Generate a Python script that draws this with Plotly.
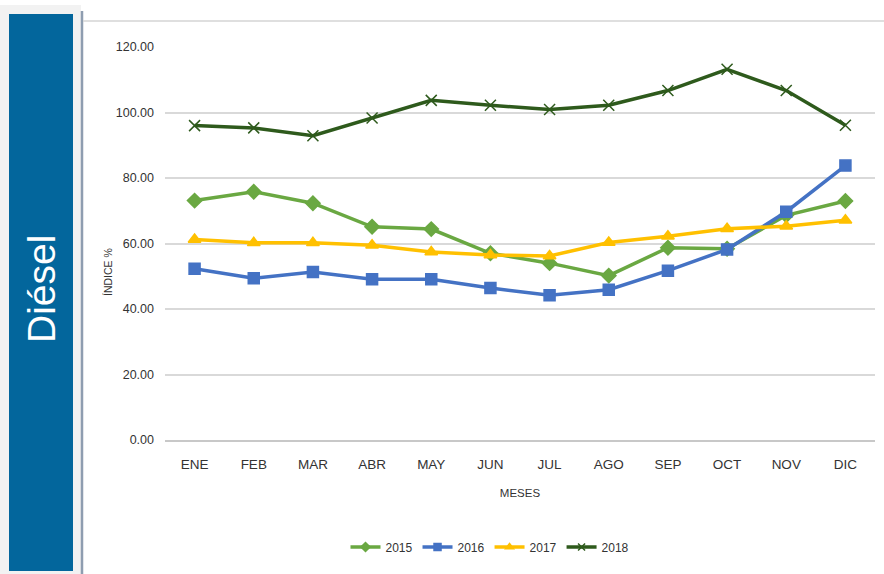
import plotly.graph_objects as go

months = ["ENE", "FEB", "MAR", "ABR", "MAY", "JUN", "JUL", "AGO", "SEP", "OCT", "NOV", "DIC"]
v2015 = [73.1, 75.8, 72.3, 65.1, 64.4, 57.0, 54.0, 50.2, 58.7, 58.4, 68.6, 73.0]
v2016 = [52.3, 49.4, 51.3, 49.1, 49.1, 46.4, 44.2, 45.9, 51.7, 58.2, 69.7, 83.8]
v2017 = [61.2, 60.2, 60.2, 59.5, 57.4, 56.5, 56.2, 60.3, 62.2, 64.5, 65.3, 67.1]
v2018 = [96.0, 95.3, 92.9, 98.3, 103.7, 102.2, 100.9, 102.2, 106.7, 113.2, 106.7, 96.1]
y_ticks = [0, 20, 40, 60, 80, 100, 120]

FONT = "Liberation Sans, Arial, sans-serif"
TXT = "#333333"

series = [
    ("2015", v2015, "#6aa842", "diamond", 11),
    ("2016", v2016, "#4472c4", "square", 11),
    ("2017", v2017, "#ffc000", "triangle-up", 11),
    ("2018", v2018, "#2e5a1c", "x-thin-open", 11),
]

fig = go.Figure()
for name, vals, col, sym, sz in series:
    fig.add_trace(go.Scatter(
        x=months, y=vals, name=name, mode="lines+markers", showlegend=False,
        line=dict(color=col, width=3.5),
        marker=dict(symbol=sym, size=sz, color=col, line=dict(color=col, width=1.5)),
    ))
# legend entries with small markers, as in the original
for name, vals, col, sym, sz in series:
    fig.add_trace(go.Scatter(
        x=[months[0]], y=[None], name=name, mode="lines+markers", showlegend=True,
        line=dict(color=col, width=3.5), hoverinfo="skip",
        marker=dict(symbol=sym, size=7, color=col, line=dict(color=col, width=1.5)),
    ))

# plot area: x 165..875, y 47..440 px
L, R, T, B = 165, 9, 47, 134
W, H = 884, 574
pw, ph = W - L - R, H - T - B

def px(x):
    return (x - L) / pw

def py(y):
    return (H - B - y) / ph

shapes = [
    dict(type="rect", xref="paper", yref="paper", x0=px(0), x1=px(81), y0=py(574), y1=py(5),
         fillcolor="#f2f2f2", line=dict(width=0), layer="below"),
    dict(type="rect", xref="paper", yref="paper", x0=px(9), x1=px(73), y0=py(571), y1=py(14),
         fillcolor="#03669c", line=dict(width=0), layer="below"),
    dict(type="line", xref="paper", yref="paper", x0=px(82), x1=px(82), y0=py(574), y1=py(11),
         line=dict(color="#8e9db0", width=2.5)),
    dict(type="line", xref="paper", yref="paper", x0=px(83), x1=px(884), y0=py(21), y1=py(21),
         line=dict(color="#d4d4d4", width=1.5)),
]

annotations = [
    dict(text="Diésel", xref="paper", yref="paper", x=px(41), y=py(289), showarrow=False,
         textangle=-90, font=dict(family=FONT, size=39, color="white"),
         xanchor="center", yanchor="middle"),
    dict(text="ÍNDICE %", xref="paper", yref="paper", x=px(108), y=py(272), showarrow=False,
         textangle=-90, font=dict(family=FONT, size=10.5, color=TXT),
         xanchor="center", yanchor="middle"),
]

fig.update_layout(
    width=W, height=H,
    margin=dict(l=L, r=R, t=T, b=B),
    paper_bgcolor="white", plot_bgcolor="white",
    shapes=shapes, annotations=annotations,
    showlegend=True,
    legend=dict(orientation="h", x=px(490), xanchor="center", y=py(547), yanchor="middle",
                font=dict(family=FONT, size=12, color=TXT), itemwidth=30,
                bgcolor="rgba(0,0,0,0)"),
    xaxis=dict(
        type="category", range=[-0.5, 11.5], showgrid=False, ticks="",
        showline=True, linecolor="#c8c8c8", linewidth=1.5,
        ticklabelstandoff=11,
        tickfont=dict(family=FONT, size=13.5, color=TXT),
        title=dict(text="MESES", font=dict(family=FONT, size=11.5, color=TXT), standoff=18),
    ),
    yaxis=dict(
        range=[0, 120], tickvals=y_ticks, tickformat=".2f",
        showgrid=True, gridcolor="#d9d9d9", gridwidth=1.5,
        zeroline=False, showline=False, ticks="",
        ticklabelstandoff=10,
        tickfont=dict(family=FONT, size=12.5, color=TXT),
    ),
    font=dict(family=FONT, color=TXT),
)

fig.write_html("out.html", config={"displayModeBar": False},
               post_script="document.body.style.margin='0';")
